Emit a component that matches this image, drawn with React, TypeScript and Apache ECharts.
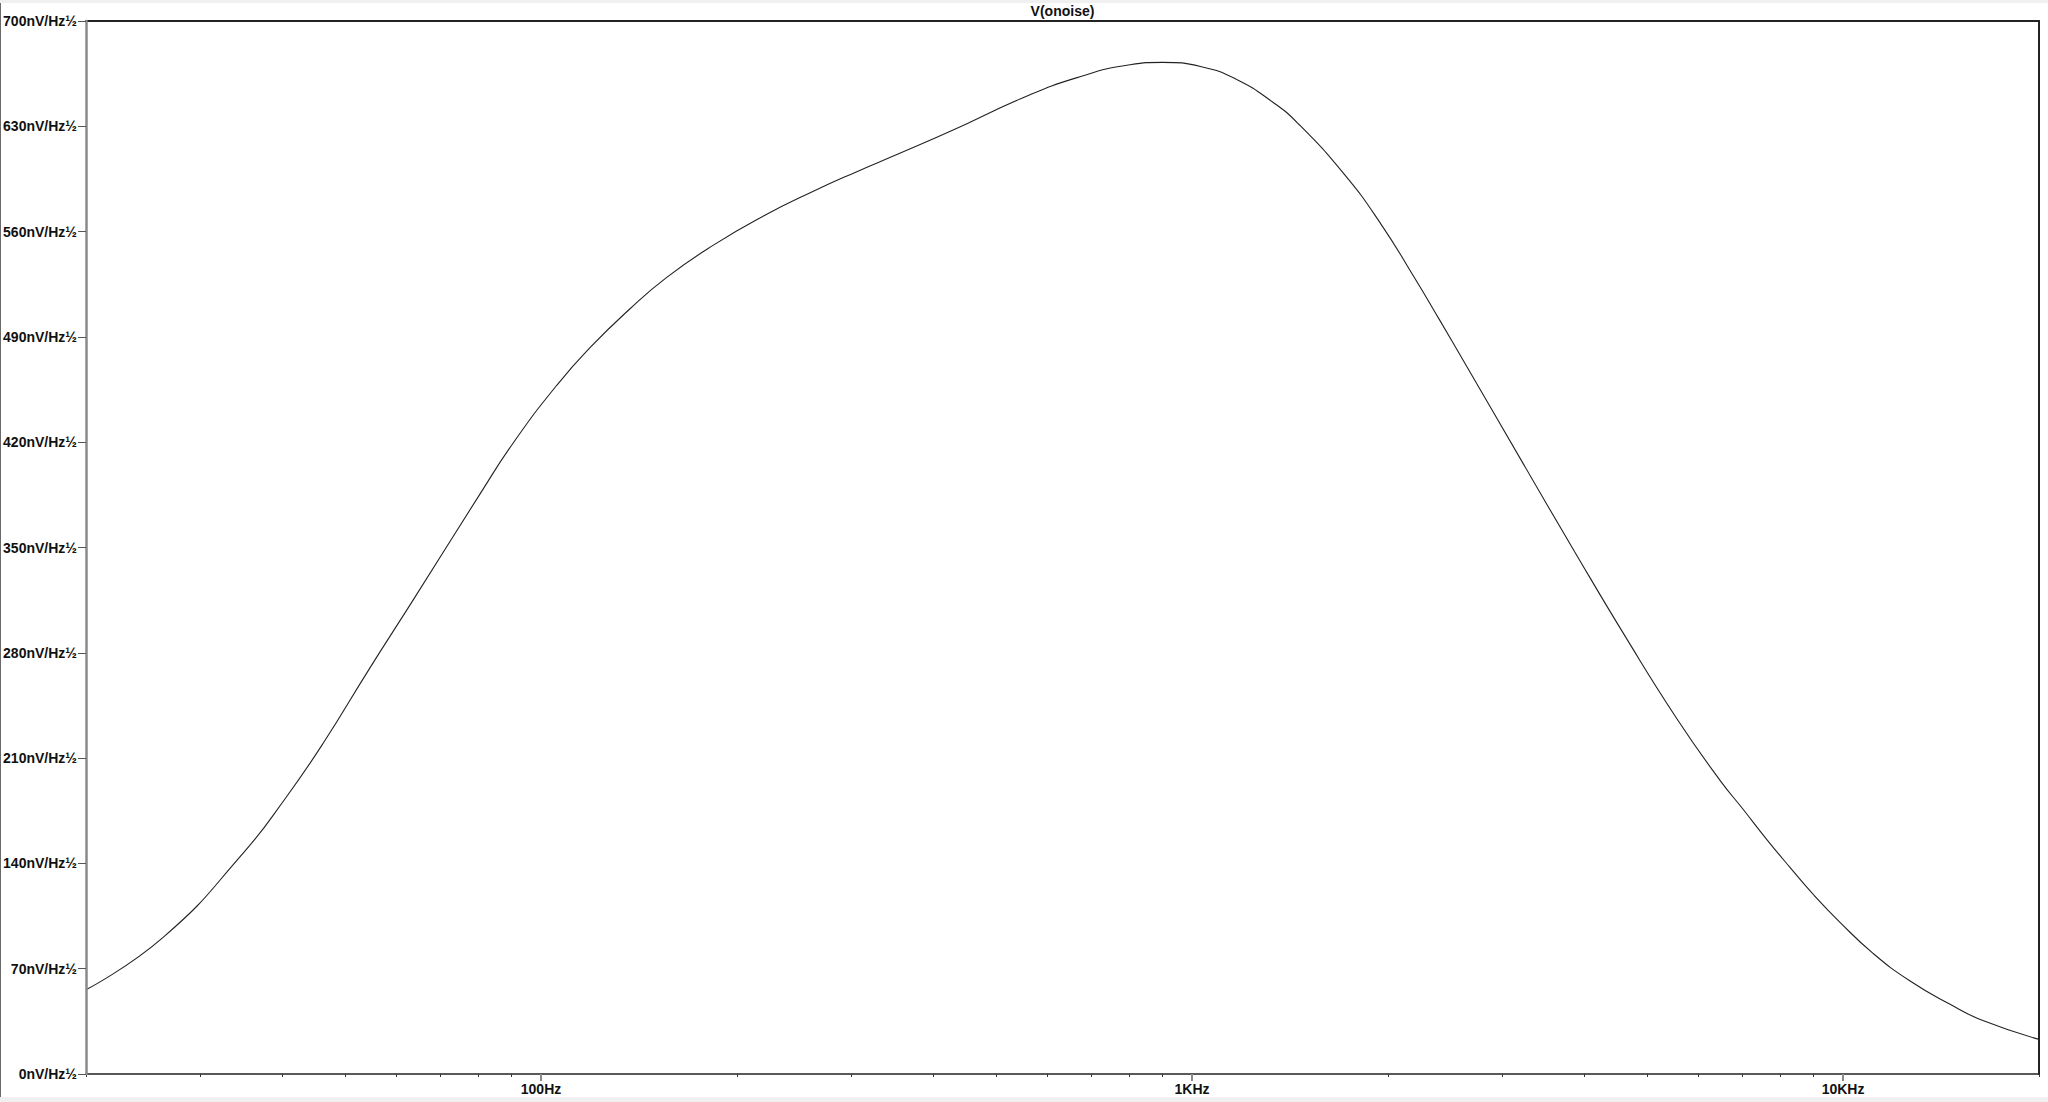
import React, { useEffect, useRef } from 'react';
import * as echarts from 'echarts';

// Frequency (Hz) and output noise density (nV/√Hz)
const freqHz = [
  20, 26.3, 34.9, 40.6, 46.3, 54.6, 63.6, 80.7, 90.8, 105.8, 119, 137, 156, 184, 220,
  262, 305, 352, 427, 550, 664, 803, 900, 1034, 1173, 1331, 1454, 1714, 1944, 2206,
  2400, 2617, 3228, 3868, 4636, 5556, 6468, 7022, 7627, 8283, 8994, 9885, 11121,
  12660, 14580, 16400, 20000,
];
const noiseNV = [
  56, 91, 147, 184, 220, 270, 315, 386, 420, 458, 483, 508.7, 529.6, 551, 570.5,
  586.8, 599.7, 611.2, 627, 649, 662.2, 670.9, 672.5, 669.6, 661, 646, 632, 598, 566, 528,
  501.3, 473.5, 405.6, 347.4, 290.4, 236.2, 195.4, 176, 156.2, 137.5, 119.5, 101, 80.2,
  62, 46.5, 35.5, 23,
];

const titleText = 'V(onoise)';
const xMin = 20;
const xMax = 20000;
const majorTicks = [100, 1000, 10000];
const majorLabels = ['100Hz', '1KHz', '10KHz'];
const minorTicks = [
  20, 30, 40, 50, 60, 70, 80, 90,
  200, 300, 400, 500, 600, 700, 800, 900,
  2000, 3000, 4000, 5000, 6000, 7000, 8000, 9000,
  20000,
];
const yMin = 0;
const yMax = 700;
const yStep = 70;
const yUnit = 'nV/Hz½';

const FONT = '"Liberation Sans", Arial, Helvetica, sans-serif';

export default function App() {
  const ref = useRef<HTMLDivElement>(null);

  useEffect(() => {
    document.body.style.margin = '0';
    const chart = echarts.init(ref.current as HTMLDivElement, null, { renderer: 'svg' });

    const labelStyle = {
      color: '#111',
      fontSize: 14,
      fontWeight: 'bold' as const,
      fontFamily: FONT,
    };

    const fmtX = (v: number) => {
      const idx = majorTicks.findIndex((t) => Math.abs(Math.log10(t) - Math.log10(v)) < 1e-6);
      return idx >= 0 ? majorLabels[idx] : '';
    };

    const option: any = {
      animation: false,
      backgroundColor: '#ffffff',
      title: {
        text: titleText,
        left: 1062.5,
        top: 4,
        padding: 0,
        textAlign: 'center',
        textStyle: { ...labelStyle },
      },
      grid: { left: 86, right: 9, top: 21, bottom: 28, containLabel: false },
      xAxis: [
        {
          type: 'log',
          logBase: 10,
          min: xMin,
          max: xMax,
          position: 'bottom',
          axisLine: { show: true, onZero: false, lineStyle: { color: '#222', width: 1.5 } },
          axisTick: {
            show: true,
            customValues: majorTicks,
            length: 7,
            lineStyle: { color: '#8a8a8a', width: 2 },
          },
          axisLabel: {
            show: true,
            customValues: majorTicks,
            formatter: fmtX,
            margin: 8,
            ...labelStyle,
          },
          splitLine: { show: false },
          minorTick: { show: false },
          z: 3,
        },
        {
          type: 'log',
          logBase: 10,
          min: xMin,
          max: xMax,
          position: 'bottom',
          axisLine: { show: false, onZero: false },
          axisTick: {
            show: true,
            customValues: minorTicks,
            length: 3,
            lineStyle: { color: '#333', width: 1 },
          },
          axisLabel: { show: false },
          splitLine: { show: false },
          z: 3,
        },
        {
          type: 'log',
          logBase: 10,
          min: xMin,
          max: xMax,
          position: 'top',
          axisLine: { show: true, onZero: false, lineStyle: { color: '#222', width: 2 } },
          axisTick: { show: false },
          axisLabel: { show: false },
          splitLine: { show: false },
        },
      ],
      yAxis: [
        {
          type: 'value',
          min: yMin,
          max: yMax,
          interval: yStep,
          position: 'left',
          axisLine: { show: true, onZero: false, lineStyle: { color: '#8a8a8a', width: 2.5 } },
          axisTick: { show: true, length: 8, lineStyle: { color: '#555', width: 1 } },
          axisLabel: {
            margin: 9,
            formatter: (v: number) => `${v}${yUnit}`,
            ...labelStyle,
          },
          splitLine: { show: false },
          z: 4,
        },
        {
          type: 'value',
          min: yMin,
          max: yMax,
          interval: yStep,
          position: 'right',
          axisLine: { show: true, onZero: false, lineStyle: { color: '#222', width: 2 } },
          axisTick: { show: false },
          axisLabel: { show: false },
          splitLine: { show: false },
        },
      ],
      series: [
        {
          type: 'line',
          xAxisIndex: 0,
          yAxisIndex: 0,
          data: freqHz.map((f, i) => [f, noiseNV[i]]),
          smooth: 0.5,
          showSymbol: false,
          symbol: 'none',
          lineStyle: { color: '#222', width: 1.1 },
          z: 2,
        },
      ],
      graphic: [
        { type: 'rect', shape: { x: 0, y: 0, width: 2048, height: 3 }, style: { fill: '#f0f0f0' }, silent: true },
        { type: 'rect', shape: { x: 0, y: 1097, width: 2048, height: 5 }, style: { fill: '#f0f0f0' }, silent: true },
        { type: 'rect', shape: { x: 0, y: 3, width: 1, height: 1094 }, style: { fill: '#6a6a6a' }, silent: true },
      ],
    };

    chart.setOption(option);
    return () => chart.dispose();
  }, []);

  return (
    <div
      ref={ref}
      style={{ position: 'fixed', left: 0, top: 0, width: '2048px', height: '1102px', background: '#fff' }}
    />
  );
}
